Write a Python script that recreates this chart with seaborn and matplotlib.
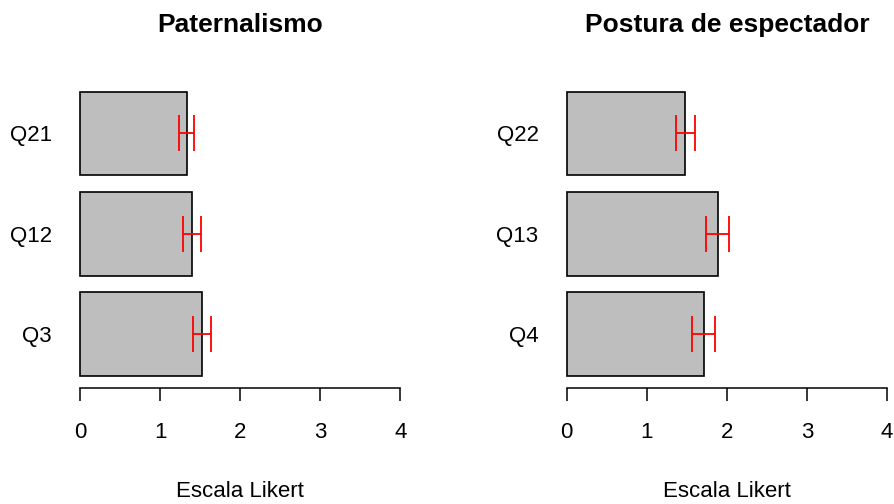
import matplotlib
matplotlib.use("Agg")
import matplotlib.pyplot as plt
import seaborn as sns
import pandas as pd

# Mean Likert scores and standard errors per item
pat_items = ["Q21", "Q12", "Q3"]
pat_means = [1.33, 1.40, 1.52]
pat_se = [0.09, 0.115, 0.11]

esp_items = ["Q22", "Q13", "Q4"]
esp_means = [1.48, 1.885, 1.71]
esp_se = [0.12, 0.14, 0.14]

titles = ["Paternalismo", "Postura de espectador"]
xlabel = "Escala Likert"
xticks = [0, 1, 2, 3, 4]

sns.set_style("white")
plt.rcParams["font.family"] = ["Liberation Sans", "DejaVu Sans"]
plt.rcParams["text.color"] = "black"
plt.rcParams["axes.labelcolor"] = "black"
plt.rcParams["xtick.color"] = "black"
plt.rcParams["ytick.color"] = "black"

W, H = 894, 504
fig = plt.figure(figsize=(W / 100, H / 100), dpi=100)

panels = [
    (pat_items, pat_means, pat_se, titles[0], 80.0),
    (esp_items, esp_means, esp_se, titles[1], 566.7),
]

for items, means, se, title, x0 in panels:
    unit = 80.1  # pixels per Likert point
    left = x0 - 0.16 * unit
    width = 4.32 * unit
    ax = fig.add_axes([left / W, (H - 387.5) / H, width / W, 307.3 / H])
    df = pd.DataFrame({"item": items, "score": means})
    sns.barplot(data=df, x="score", y="item", order=items, orient="h",
                color="#bebebe", saturation=1, width=1 / 1.2,
                edgecolor="black", linewidth=1.2, errorbar=None, ax=ax)
    ax.errorbar(means, list(range(len(items))), xerr=se, fmt="none",
                ecolor="red", elinewidth=1.3, capsize=12.8, capthick=1.3)
    ax.set_xlim(-0.16, 4.16)
    ax.set_ylim(2.53, -0.53)
    for s in ["top", "right", "left"]:
        ax.spines[s].set_visible(False)
    ax.spines["bottom"].set_bounds(0, 4)
    ax.spines["bottom"].set_linewidth(1.1)
    ax.spines["bottom"].set_color("black")
    ax.set_xticks(xticks)
    ax.set_xticklabels([str(t) for t in xticks])
    ax.tick_params(axis="x", length=9.5, width=1.1, color="black",
                   direction="out", pad=15.5, labelsize=16, bottom=True)
    ax.tick_params(axis="y", length=0, pad=11, labelsize=16)
    ax.set_ylabel("")
    ax.set_xlabel(xlabel, fontsize=16, labelpad=27)
    ax.set_title(title, fontsize=19, fontweight="bold", pad=34.5)

fig.savefig("out.png", dpi=100)
